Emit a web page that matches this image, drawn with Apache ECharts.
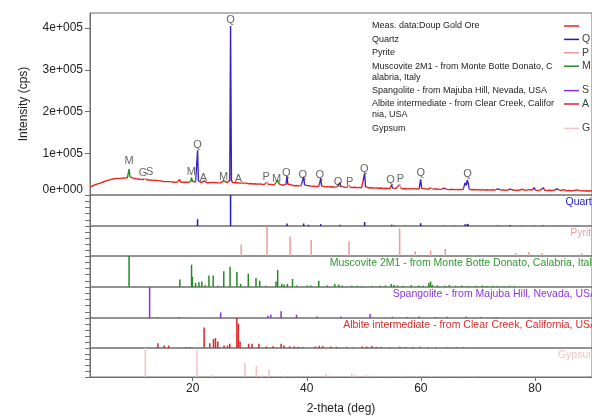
<!DOCTYPE html>
<html>
<head>
<meta charset="utf-8">
<title>Doup Gold Ore - XRD</title>
<script src="https://cdn.jsdelivr.net/npm/echarts@6/dist/echarts.min.js"></script>
<style>
  html, body { margin: 0; padding: 0; background: #fff; }
  #chart { width: 592px; height: 416px; }
</style>
</head>
<body>
<div id="chart"></div>
<script>
// measured pattern [2-theta, counts]
const measured = [
  [2.0,19500],[2.3,21500],[2.6,22800],[2.9,24600],[3.2,25900],[3.5,27800],[3.8,28600],[4.1,30900],[4.4,31800],[4.7,33900],
  [5.0,34600],[5.3,35400],[5.6,36900],[5.9,37300],[6.2,38900],[6.5,38200],[6.8,39800],[7.1,40600],[7.4,39900],[7.7,41200],
  [8.0,40700],[8.3,41800],[8.55,41200],[8.7,43500],[8.85,62000],[9.0,44000],[9.2,41000],[9.5,40300],[9.8,39100],[10.1,38800],
  [10.4,38000],[10.7,37600],[11.0,36900],[11.3,37200],[11.55,36400],[11.7,39000],[11.85,36600],[12.1,35800],[12.3,36200],[12.45,40500],
  [12.6,36000],[12.8,34900],[13.1,35100],[13.4,34200],[13.7,34600],[14.0,33500],[14.3,33900],[14.6,33000],[14.9,32400],[15.2,33000],
  [15.5,32100],[15.8,31500],[16.1,32000],[16.4,31200],[16.7,30600],[17.0,31300],[17.3,30900],[17.55,32500],[17.7,37500],[17.85,31200],
  [18.1,30200],[18.4,30700],[18.7,29600],[19.0,30400],[19.3,29800],[19.6,31500],[19.8,41500],[19.95,33000],[20.2,30300],[20.5,31200],
  [20.7,33000],[20.86,107000],[21.0,34500],[21.2,30600],[21.5,29700],[21.8,30400],[22.0,33800],[22.2,30200],[22.5,29300],[22.8,30600],
  [23.1,29700],[23.4,31800],[23.7,30100],[24.0,31400],[24.3,29500],[24.6,30200],[24.9,29100],[25.2,30600],[25.45,34500],[25.7,30400],
  [26.0,29600],[26.3,30800],[26.5,35000],[26.64,405000],[26.8,36000],[27.0,29600],[27.3,28700],[27.6,29300],[27.85,33000],[28.1,28900],
  [28.4,27900],[28.7,28500],[29.0,27500],[29.4,28400],[29.8,26900],[30.2,27500],[30.6,26400],[31.0,27000],[31.4,25900],[31.8,26600],
  [32.2,25300],[32.6,25900],[32.9,27000],[33.05,31000],[33.2,25600],[33.5,24600],[33.9,25200],[34.3,24100],[34.6,27500],[34.9,35000],
  [35.2,26000],[35.5,24300],[35.8,23400],[36.1,24000],[36.35,26000],[36.54,45000],[36.7,25500],[37.0,23600],[37.1,25000],[37.4,22800],
  [37.8,22200],[38.2,22900],[38.6,21800],[39.0,22400],[39.3,24000],[39.46,44000],[39.6,24300],[39.9,21700],[40.1,22800],[40.29,26500],
  [40.5,21900],[40.9,20600],[41.3,21300],[41.7,20200],[42.1,21100],[42.3,23000],[42.45,40000],[42.6,21800],[42.9,20100],[43.3,19400],
  [43.7,20100],[44.1,19200],[44.5,19800],[44.9,18800],[45.3,19500],[45.6,21000],[45.79,29500],[45.95,21200],[46.3,19000],[46.7,18300],
  [47.1,18900],[47.42,24000],[47.6,18700],[48.0,17900],[48.4,18500],[48.8,17600],[49.2,18200],[49.6,17300],[49.95,19500],[50.14,52000],
  [50.3,20200],[50.6,17500],[51.0,16800],[51.4,17400],[51.8,16400],[52.2,17000],[52.6,16100],[53.0,16700],[53.4,15700],[53.8,16300],
  [54.2,15500],[54.6,16200],[54.87,24000],[55.05,16500],[55.33,19000],[55.6,15600],[55.9,16200],[56.28,25500],[56.5,16000],[56.9,15100],
  [57.3,15700],[57.7,14800],[58.1,15400],[58.5,14600],[58.9,15200],[59.3,14300],[59.7,15600],[59.96,37500],[60.15,16000],[60.5,14200],
  [60.9,14800],[61.3,13900],[61.7,17000],[61.9,20000],[62.1,14400],[62.4,13700],[62.8,14300],[63.2,13500],[63.6,14100],[64.03,16500],
  [64.3,15200],[64.6,13600],[65.0,13000],[65.4,13700],[65.8,12900],[66.2,13500],[66.6,12700],[67.0,13400],[67.4,12800],[67.74,29000],
  [67.95,23000],[68.14,36000],[68.31,28000],[68.5,14000],[68.9,12600],[69.3,13200],[69.7,12300],[70.1,13000],[70.5,12100],[70.9,12800],
  [71.3,12000],[71.7,12700],[72.1,11800],[72.5,12500],[72.9,11700],[73.2,12400],[73.47,14500],[73.7,12200],[74.1,11500],[74.5,12200],
  [74.9,11400],[75.3,12100],[75.66,14200],[75.9,12000],[76.3,11300],[76.6,13000],[76.9,11200],[77.3,11900],[77.67,13800],[77.9,11500],
  [78.3,11000],[78.6,11700],[78.9,12800],[79.2,11100],[79.5,12000],[79.87,17500],[80.1,11800],[80.5,10900],[80.9,11600],[81.2,12600],
  [81.48,17500],[81.7,11400],[82.1,10800],[82.5,11500],[82.9,10700],[83.3,11400],[83.84,14500],[84.1,11000],[84.5,10500],[84.9,12800],
  [85.2,10600],[85.6,10200],[86.0,10900],[86.4,10100],[86.8,10700],[87.1,10000],[87.4,12200],[87.7,10100],[88.1,9800],[88.5,10500],
  [88.9,9700],[89.3,10300],[89.7,9600],[90.0,10100]
];

// letters over identified peaks [letter, 2-theta, counts]
const peakLabels = [
  ['M',8.85,82000],['G',11.3,52000],['S',12.45,54000],['M',19.75,54000],['Q',20.86,120000],['A',21.9,40000],
  ['M',25.4,44000],['Q',26.64,419000],['A',28.0,37600],['P',32.9,42000],['M',34.7,37600],['Q',36.4,53000],
  ['Q',39.3,49000],['Q',42.3,47000],['Q',45.5,32000],['P',47.5,32000],['Q',50.1,61500],['Q',54.7,36000],
  ['P',56.4,37600],['Q',60.0,52000],['Q',68.2,49500]
];

// stretches of the measured line coloured by phase [letter, from, to]
const peakRanges = [
  ['M',8.6,9.1],['G',11.55,11.85],['S',12.3,12.6],['M',17.55,17.85],['M',19.6,20.0],['Q',20.65,21.05],
  ['A',21.85,22.15],['M',25.3,25.6],['Q',26.4,26.85],['A',27.7,28.0],['P',32.9,33.2],['M',34.5,35.3],
  ['Q',36.3,36.75],['Q',39.25,39.65],['Q',40.15,40.45],['Q',42.25,42.65],['Q',45.6,45.95],['P',47.25,47.6],
  ['Q',49.9,50.35],['Q',54.7,55.05],['P',56.1,56.45],['Q',59.75,60.15],['P',61.7,62.1],['Q',63.85,64.2],
  ['Q',67.5,68.5],['Q',73.3,73.65],['Q',75.45,75.85],['Q',79.65,80.05],['Q',81.25,81.65],['Q',83.65,84.0]
];

const yTicks = [0, 100000, 200000, 300000, 400000];
const xTicks = [20, 40, 60, 80];

const measName = 'Meas. data:Doup Gold Ore';
const phaseLetters = ['Q', 'P', 'M', 'S', 'A', 'G'];
const phaseNames = [
  'Quartz',
  'Pyrite',
  'Muscovite 2M1 - from Monte Botte Donato, Calabria, Italy',
  'Spangolite - from Majuba Hill, Nevada, USA',
  'Albite intermediate - from Clear Creek, California, USA',
  'Gypsum'
];

// reference patterns [2-theta, relative intensity %]
const quartzSticks = [
  [20.86,22],[26.64,100],[36.54,8],[39.46,8],[40.29,4],[42.45,6],[45.79,4],[50.14,13],[54.87,4],[55.33,2],
  [57.24,1],[59.96,9],[64.03,2],[65.79,1],[67.74,6],[68.14,7],[68.31,5],[73.47,2],[75.66,3],[77.67,1],
  [79.87,2],[81.48,2],[83.84,1],[84.9,1],[87.4,1]
];
const pyriteSticks = [
  [28.5,38],[33.03,100],[37.08,65],[40.78,54],[47.42,49],[56.28,92],[59.0,16],[61.7,18],[64.28,24],[69.2,4],
  [76.6,10],[78.9,13],[81.2,10],[83.7,5],[88.2,10]
];
const muscoviteSticks = [
  [8.85,100],[17.75,24],[19.8,72],[19.95,33],[20.5,13],[21.1,15],[21.6,18],[22.2,6],[22.85,37],[23.6,37],
  [24.4,4],[25.45,51],[26.55,65],[27.75,48],[28.4,10],[29.75,43],[31.1,29],[31.75,20],[32.8,4],[34.6,18],
  [34.9,55],[35.6,10],[36.0,8],[36.6,10],[37.5,26],[38.2,5],[40.1,5],[40.7,5],[42.1,20],[43.6,5],
  [44.9,10],[45.6,8],[46.2,5],[47.9,4],[48.8,4],[49.6,3],[51.4,3],[52.8,4],[53.8,5],[54.8,10],
  [55.3,7],[55.9,5],[56.9,4],[58.3,6],[59.6,5],[60.4,4],[61.4,13],[61.7,18],[62.0,7],[62.9,5],
  [64.2,4],[65.0,6],[66.1,4],[67.2,5],[68.4,3],[69.6,4],[70.8,5],[71.5,3],[72.6,4],[73.4,3],
  [74.6,3],[75.6,4],[76.4,3]
];
const spangoliteSticks = [
  [12.45,100],[13.8,3],[17.6,3],[24.9,18],[33.2,7],[33.7,11],[35.5,22],[38.2,10],[41.8,5],[46.0,5],
  [51.1,13],[55.0,4],[57.6,3],[59.7,5],[62.5,3],[64.6,4],[67.9,5],[70.5,3],[73.2,3]
];
const albiteSticks = [
  [13.9,16],[15.0,8],[15.8,8],[18.8,3],[19.6,3],[22.0,68],[23.0,16],[23.65,30],[24.0,33],[24.4,22],
  [25.5,8],[26.1,8],[26.5,14],[27.75,100],[28.0,81],[28.3,22],[29.8,14],[30.4,14],[31.6,14],[32.9,5],
  [34.1,6],[35.5,14],[36.0,8],[37.0,6],[37.8,5],[38.5,4],[39.3,3],[41.5,5],[42.2,7],[42.8,6],
  [44.2,5],[45.2,4],[47.0,4],[48.2,3],[49.7,5],[50.5,5],[51.4,7],[52.2,4],[53.0,3],[54.5,3],
  [56.3,4],[57.4,3],[58.6,3],[59.8,4],[61.2,3],[62.7,3],[64.5,3],[66.4,3],[67.5,3]
];
const gypsumSticks = [
  [11.7,100],[18.7,2],[20.75,91],[23.4,8],[29.15,49],[31.15,38],[32.1,6],[33.4,26],[36.0,5],[37.5,3],
  [40.6,4],[43.4,10],[44.5,4],[47.9,13],[48.5,8],[50.4,7],[51.3,5],[54.5,3],[56.7,4],[59.2,3],
  [61.8,3],[64.5,3],[66.8,3],[69.2,2]
];
const phaseSticks = [quartzSticks, pyriteSticks, muscoviteSticks, spangoliteSticks, albiteSticks, gypsumSticks];

// colours
const measColor = '#e8261f';
const phaseColors = ['#1c1cc8', '#eb9c9c', '#258a25', '#8b2ee0', '#dc2424', '#f4c2c2'];
const phaseTextColors = ['#2222d0', '#f29e9e', '#2f982f', '#8a35e2', '#e02a2a', '#f3c4c4'];
const peakColors = { Q: '#3a22c6', P: '#e58a8a', M: '#2c8a22', S: '#8b2ee0', A: '#d42020', G: '#e890b0' };
const frameColor = '#6e6e6e';
const font = "'Liberation Sans', Arial, sans-serif";

const chart = echarts.init(document.getElementById('chart'), null, { renderer: 'canvas' });

const plotLeft = 90;
const plotWidth = 512;
const mainTop = 13;
const mainBottom = 195;
const stackBottom = 379;
const panelTops = [];
for (let i = 0; i <= phaseNames.length; i++) {
  panelTops.push(Math.round(mainBottom + i * (stackBottom - mainBottom) / phaseNames.length));
}

function renderStick(params, api) {
  const base = api.coord([api.value(0), 0]);
  const top = api.coord([api.value(0), api.value(1)]);
  return {
    type: 'line',
    shape: { x1: base[0], y1: base[1], x2: top[0], y2: top[1] },
    style: { stroke: api.visual('color'), lineWidth: 1.5 }
  };
}

const grids = [{ left: plotLeft, top: mainTop, width: plotWidth, height: mainBottom - mainTop,
  show: true, borderColor: frameColor, borderWidth: 1 }];
const xAxes = [{ gridIndex: 0, type: 'value', min: 2, max: 90, show: false }];
const yAxes = [{
  gridIndex: 0, type: 'value', min: 0, max: 436000,
  name: 'Intensity (cps)', nameLocation: 'middle', nameGap: 60,
  nameTextStyle: { fontSize: 12, color: '#222', fontFamily: font },
  axisLine: { show: true, lineStyle: { color: frameColor } },
  axisTick: { show: true, length: 5, customValues: yTicks, lineStyle: { color: frameColor } },
  axisLabel: {
    customValues: yTicks, margin: 7, fontSize: 12, color: '#222', fontFamily: font,
    formatter: function (v) { return v === 0 ? '{z|0e+000}' : (v / 100000) + 'e+005'; },
    rich: { z: { fontSize: 12, color: '#222', fontFamily: font, padding: [0, 0, 10, 0] } }
  },
  splitLine: { show: false }
}];

const series = [
  {
    type: 'line', name: measName, xAxisIndex: 0, yAxisIndex: 0,
    data: measured, showSymbol: false, symbol: 'none',
    lineStyle: { width: 1.4 }, z: 3
  },
  {
    type: 'scatter', xAxisIndex: 0, yAxisIndex: 0, symbolSize: 1,
    itemStyle: { color: 'rgba(0,0,0,0)' },
    data: peakLabels.map(p => [p[1], p[2], p[0]]),
    label: {
      show: true, position: 'inside', formatter: p => p.value[2],
      fontSize: 11, color: '#3c3c3c', fontFamily: font
    },
    z: 4
  }
];

const graphics = [];

phaseNames.forEach((name, i) => {
  const top = panelTops[i];
  const h = panelTops[i + 1] - top;
  const last = i === phaseNames.length - 1;
  grids.push({ left: plotLeft, top: top, width: plotWidth, height: h,
    show: true, borderColor: frameColor, borderWidth: 1 });
  xAxes.push(last ? {
    gridIndex: i + 1, type: 'value', min: 2, max: 90,
    name: '2-theta (deg)', nameLocation: 'middle', nameGap: 26,
    nameTextStyle: { fontSize: 12, color: '#222', fontFamily: font },
    axisLine: { show: true, lineStyle: { color: frameColor } },
    axisTick: { show: true, length: 4, customValues: xTicks, lineStyle: { color: frameColor } },
    axisLabel: { customValues: xTicks, fontSize: 12, color: '#222', margin: 6, fontFamily: font },
    splitLine: { show: false }
  } : { gridIndex: i + 1, type: 'value', min: 2, max: 90, show: false });
  yAxes.push({
    gridIndex: i + 1, type: 'value', min: 0, max: 100, interval: 20,
    axisLine: { show: true, lineStyle: { color: frameColor } },
    axisTick: { show: true, length: 5, lineStyle: { color: frameColor } },
    axisLabel: { show: false },
    splitLine: { show: false }
  });
  series.push({
    type: 'custom', name: name, xAxisIndex: i + 1, yAxisIndex: i + 1,
    data: phaseSticks[i], renderItem: renderStick,
    itemStyle: { color: phaseColors[i] }, clip: true
  });
  graphics.push({
    type: 'text', x: 597, y: top + 7, silent: true,
    style: { text: name, fill: phaseTextColors[i], fontSize: 10.5, fontFamily: font,
      textAlign: 'right', textVerticalAlign: 'middle' }
  });
});

// legend block at the top right of the main panel
const legendEntries = [measName].concat(phaseNames);
const legendColors = [measColor].concat(phaseColors);
const legendLetters = [''].concat(phaseLetters);
const legendLineCount = [1, 1, 1, 2, 1, 2, 1];
let ly = 20.5;
legendEntries.forEach((name, i) => {
  graphics.push({
    type: 'text', x: 372, y: ly, silent: true,
    style: { text: name, width: 184, overflow: 'breakAll', lineHeight: 11,
      fill: '#222', fontSize: 9, fontFamily: font, textVerticalAlign: 'top' }
  });
  graphics.push({
    type: 'line', silent: true,
    shape: { x1: 564, y1: ly + 5.5, x2: 579, y2: ly + 5.5 },
    style: { stroke: legendColors[i], lineWidth: 1.5 }
  });
  if (legendLetters[i]) {
    graphics.push({
      type: 'text', x: 582, y: ly + 5.5, silent: true,
      style: { text: legendLetters[i], fill: '#3c3c3c', fontSize: 10.5, fontFamily: font,
        textVerticalAlign: 'middle' }
    });
  }
  ly += legendLineCount[i] * 11 + 2.4;
});

const option = {
  animation: false,
  backgroundColor: '#fff',
  textStyle: { fontFamily: font },
  grid: grids,
  xAxis: xAxes,
  yAxis: yAxes,
  visualMap: {
    show: false, type: 'piecewise', seriesIndex: 0, dimension: 0,
    pieces: peakRanges.map(r => ({ gte: r[1], lt: r[2], color: peakColors[r[0]] })),
    outOfRange: { color: measColor }
  },
  series: series,
  graphic: graphics
};

chart.setOption(option);
window.addEventListener('resize', function () {
  chart.resize();
});
</script>
</body>
</html>
